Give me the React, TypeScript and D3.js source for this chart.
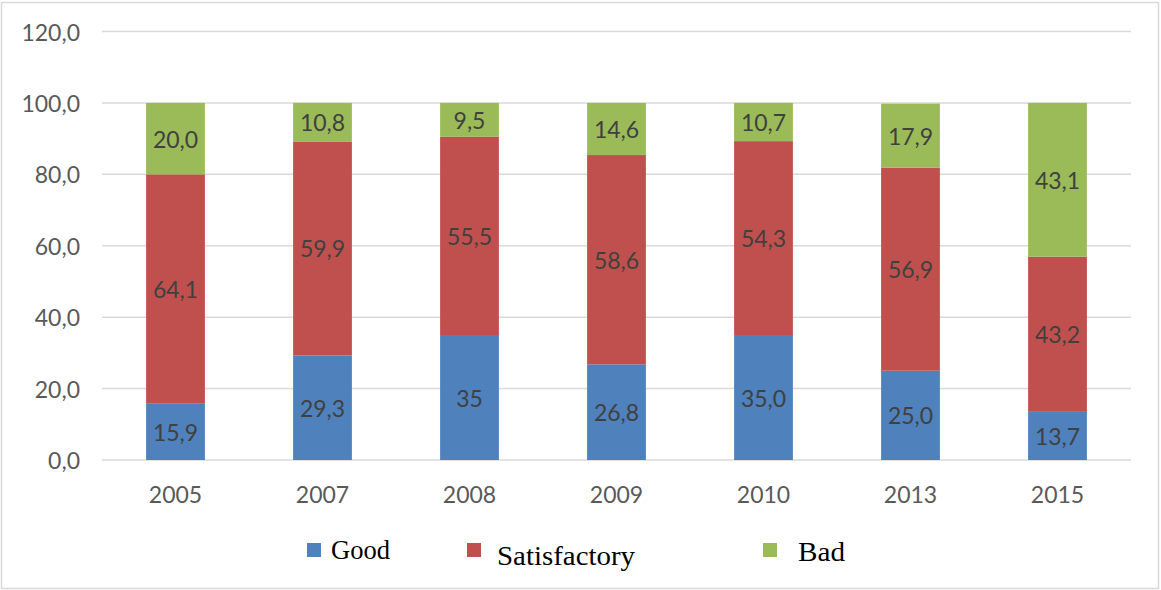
import React from "react";
import * as d3 from "d3";

const years = ["2005", "2007", "2008", "2009", "2010", "2013", "2015"];
const good = [15.9, 29.3, 35, 26.8, 35.0, 25.0, 13.7];
const satisfactory = [64.1, 59.9, 55.5, 58.6, 54.3, 56.9, 43.2];
const bad = [20.0, 10.8, 9.5, 14.6, 10.7, 17.9, 43.1];
const goodLabels = ["15,9", "29,3", "35", "26,8", "35,0", "25,0", "13,7"];
const satisfactoryLabels = ["64,1", "59,9", "55,5", "58,6", "54,3", "56,9", "43,2"];
const badLabels = ["20,0", "10,8", "9,5", "14,6", "10,7", "17,9", "43,1"];
const yTicks = [0, 20, 40, 60, 80, 100, 120];
const seriesNames = ["Good", "Satisfactory", "Bad"];
const colors = ["#4F81BD", "#C0504D", "#9BBB59"];

const W = 1161;
const H = 590;

export default function App() {
  const x = d3.scaleBand<string>().domain(years).range([102, 1131]).paddingInner(0.6).paddingOuter(0.3);
  const y = d3.scaleLinear().domain([0, 120]).range([460, 31.5]);

  const rows = years.map((yr, i) => ({ year: yr, Good: good[i], Satisfactory: satisfactory[i], Bad: bad[i] }));
  const stack = d3.stack<any>().keys(seriesNames)(rows);
  const labelSets = [goodLabels, satisfactoryLabels, badLabels];

  const tickFont = "Lato, 'Open Sans', sans-serif";
  const fmt = (v: number) => v.toFixed(1).replace(".", ",");

  const legend = [
    { sx: 307, sy: 543, tx: 331, ty: 559, tl: 59 },
    { sx: 467, sy: 543, tx: 497, ty: 565, tl: 138 },
    { sx: 763, sy: 543, tx: 798, ty: 561, tl: 47 },
  ];

  return (
    <svg width={W} height={H} style={{ position: "absolute", left: 0, top: 0, background: "#fff" }}>
      <rect x={1.5} y={2.5} width={1157} height={586} fill="#fff" stroke="#D9D9D9" strokeWidth={1.5} />
      {yTicks.map((t) => (
        <g key={t}>
          <line x1={102} x2={1131} y1={y(t)} y2={y(t)} stroke="#D9D9D9" strokeWidth={1.5} />
          <text x={80} y={y(t)} textAnchor="end" dominantBaseline="central" fontFamily={tickFont} fontSize={23} fill="#595959">
            {fmt(t)}
          </text>
        </g>
      ))}
      {stack.map((s, si) => (
        <g key={s.key}>
          {s.map((d, i) => (
            <g key={i}>
              <rect
                x={x(years[i])!}
                width={x.bandwidth()}
                y={y(d[1])}
                height={y(d[0]) - y(d[1])}
                fill={colors[si]}
              />
              <text
                x={x(years[i])! + x.bandwidth() / 2}
                y={(y(d[0]) + y(d[1])) / 2}
                textAnchor="middle"
                dominantBaseline="central"
                fontFamily={tickFont}
                fontSize={23}
                fill="#404040"
              >
                {labelSets[si][i]}
              </text>
            </g>
          ))}
        </g>
      ))}
      {years.map((yr) => (
        <text
          key={yr}
          x={x(yr)! + x.bandwidth() / 2}
          y={494}
          textAnchor="middle"
          dominantBaseline="central"
          fontFamily={tickFont}
          fontSize={23}
          fill="#595959"
        >
          {yr}
        </text>
      ))}
      {seriesNames.map((n, i) => (
        <g key={n}>
          <rect x={legend[i].sx} y={legend[i].sy} width={14} height={14} fill={colors[i]} />
          <text
            x={legend[i].tx}
            y={legend[i].ty}
            style={{ fontFamily: '"Liberation Serif", "Times New Roman", Times, serif', fontSize: "28px" }}
            textLength={legend[i].tl}
            lengthAdjust="spacingAndGlyphs"
            fill="#000"
          >
            {n}
          </text>
        </g>
      ))}
    </svg>
  );
}
